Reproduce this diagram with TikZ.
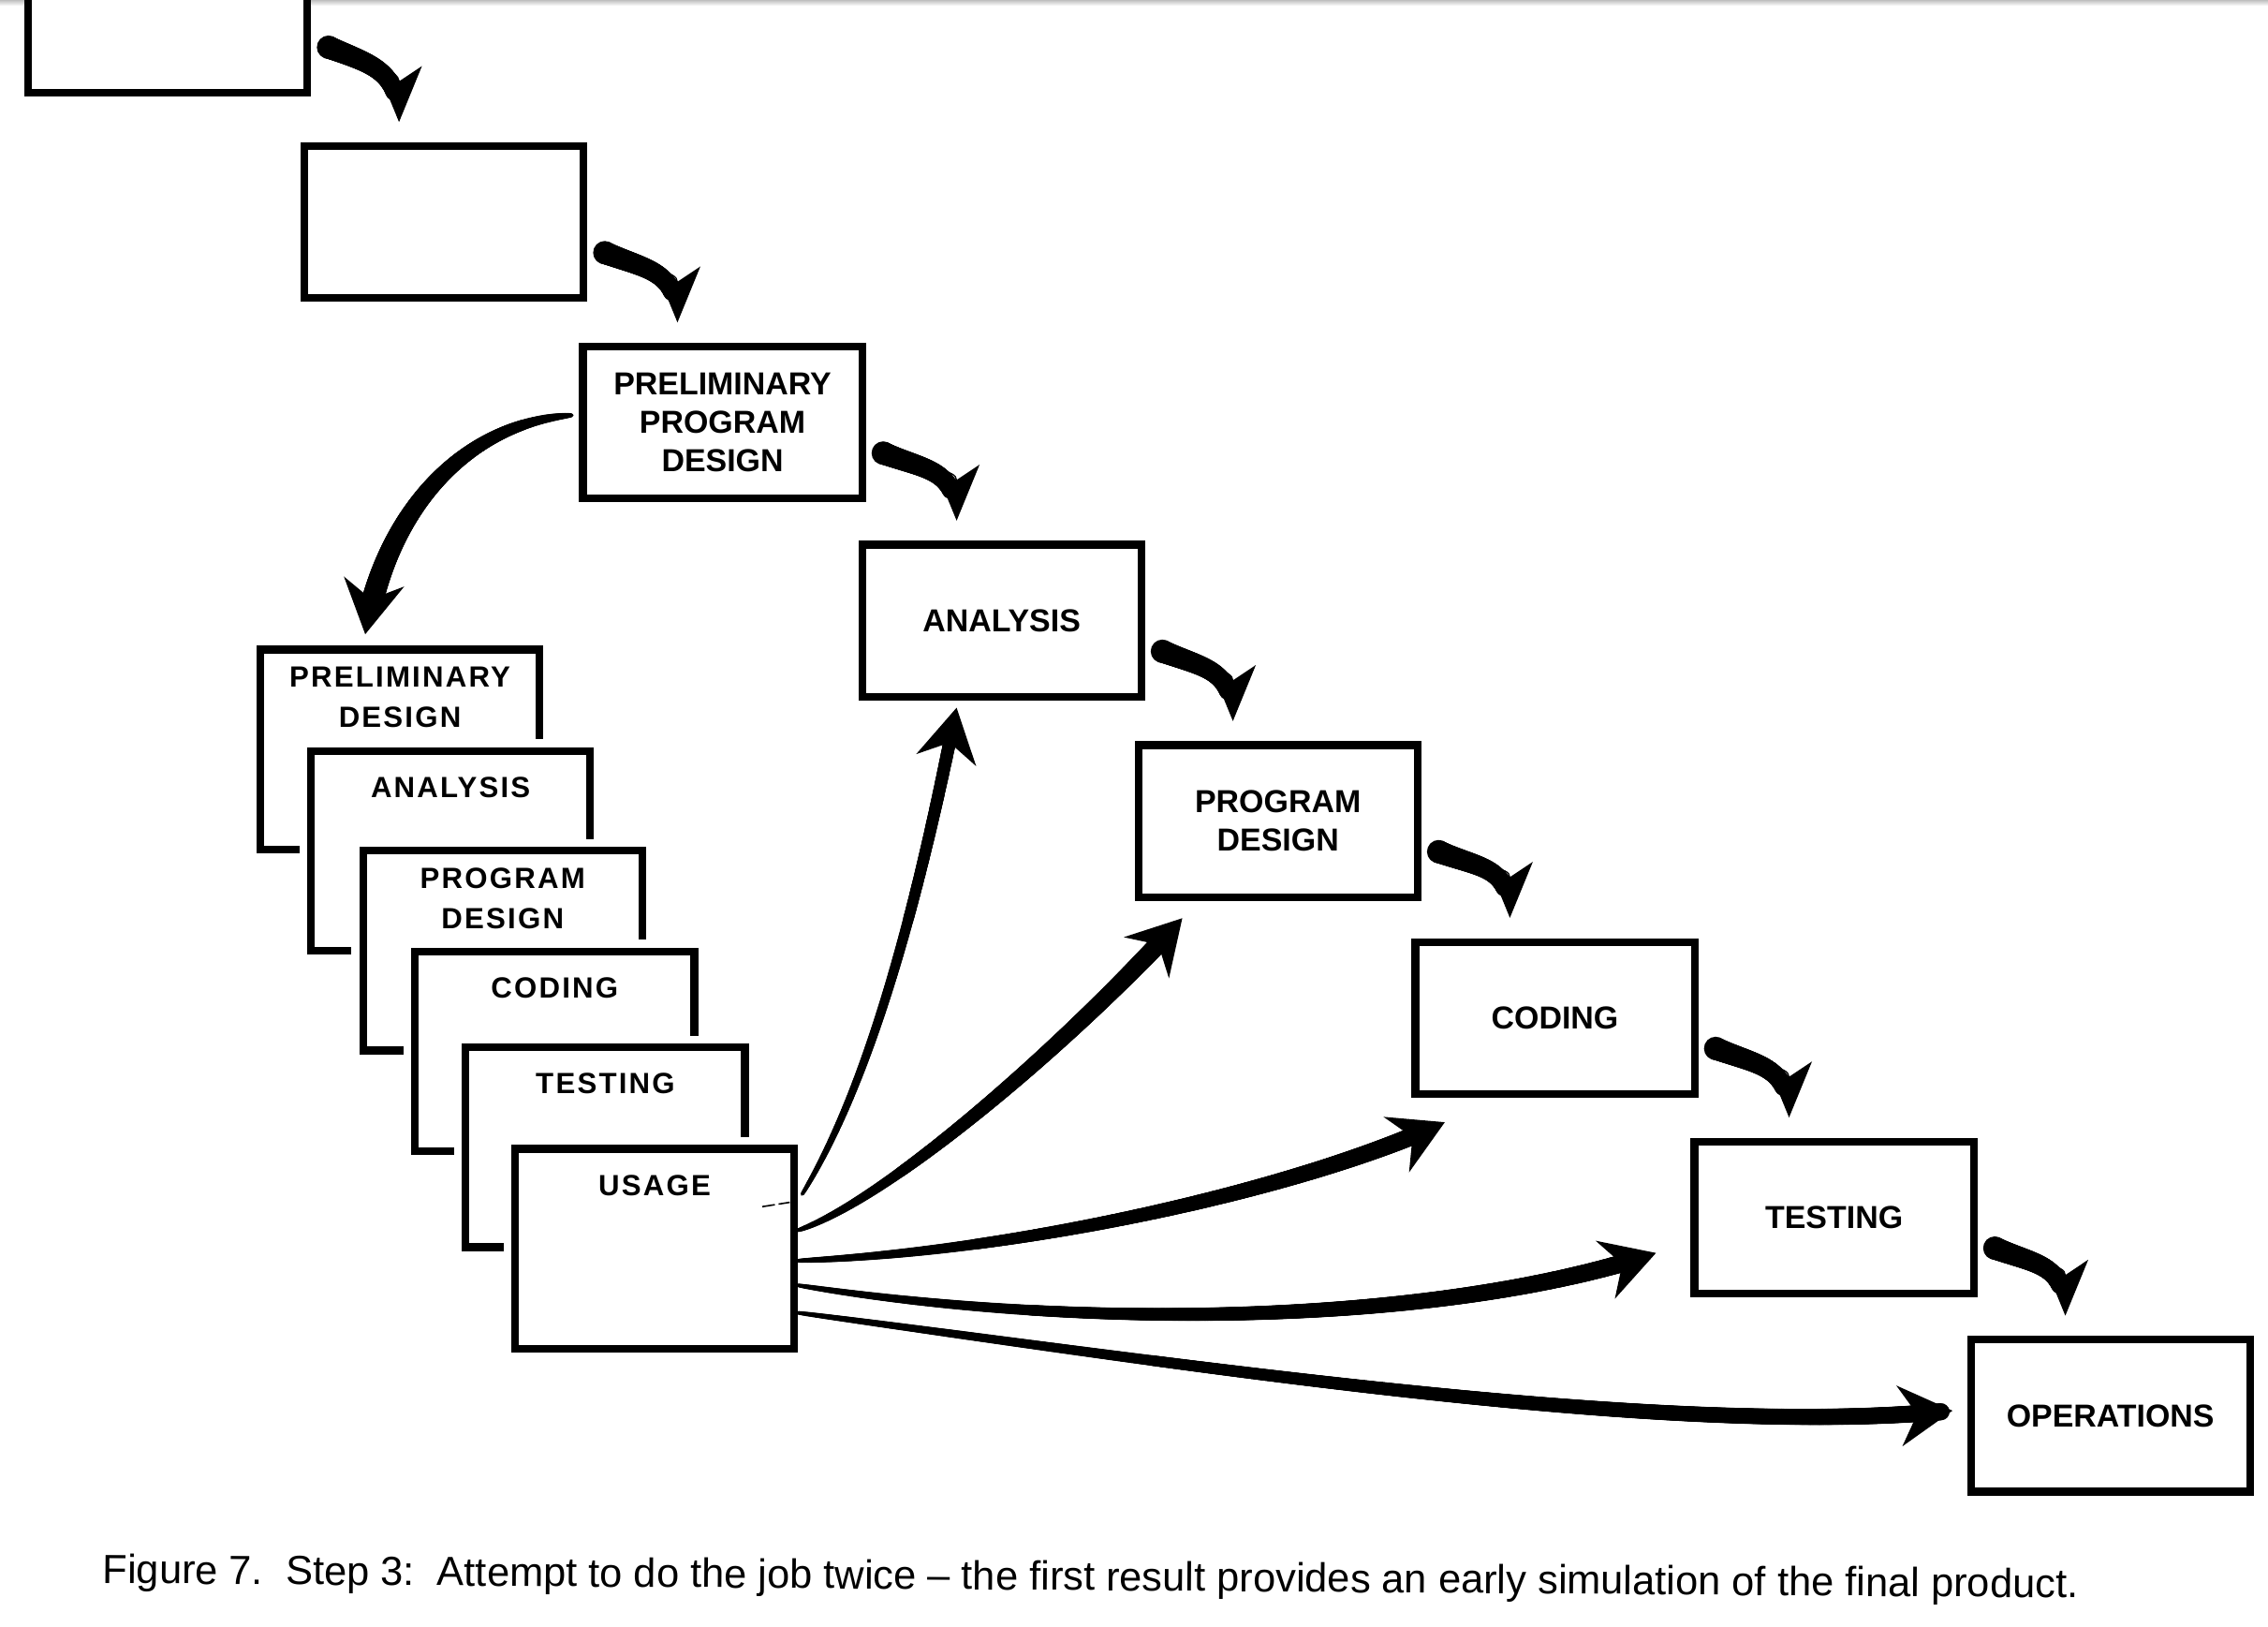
\documentclass[tikz,border=0pt]{standalone}
\usepackage{fontspec}
\setmainfont{Liberation Sans}
\newfontfamily\stackfont[LetterSpace=7]{Liberation Sans}
\newfontfamily\boxfont{Liberation Sans}
\usetikzlibrary{arrows.meta,decorations.markings,calc}
\newcommand\stk[2]{\parbox[c][27.6mm][t]{38.6mm}{\centering\vspace*{#1}#2\par}}
\tikzset{
 taper/.style n args={3}{postaction={decorate,decoration={markings,
   mark=between positions 0 and 1 step 0.4pt with {%
     \pgfmathsetmacro\tapd{\pgfkeysvalueof{/pgf/decoration/mark info/distance from start}}%
     \pgfmathsetmacro\tapl{\pgfdecoratedpathlength}%
     \pgfmathparse{(\tapd < \tapl - #3) ? 1 : 0}%
     \ifdim\pgfmathresult pt>0.5pt
       \pgfmathsetmacro\tapr{#1+(#2-#1)*(\tapd/\tapl)^0.55}%
       \fill (0,0) circle[radius=\tapr pt];%
     \fi}}}},
 chainarr/.style={line width=0.5pt, -{Stealth[length=22pt,width=18pt,inset=6pt]}, taper={4.6}{3.4}{12}},
 bigarr/.style={line width=0.5pt, -{Stealth[length=21pt,width=24pt,inset=7pt]}, taper={0.7}{#1}{14}},
}
\begin{document}
\begin{tikzpicture}[x=0.2mm,y=-0.2mm,
  rbox/.style={draw, line width=3pt, fill=white, minimum width=38.6mm, minimum height=21mm, inner sep=0pt, align=center, font=\boxfont\bfseries\fontsize{12.5}{15}\selectfont},
  sbox/.style={draw, line width=3pt, fill=white, inner sep=0pt, preaction={draw=white, line width=9pt}, font=\stackfont\bfseries\fontsize{11.5}{15.9}\selectfont},
]
\useasboundingbox (0,0) rectangle (1568,1124);
\clip (0,0) rectangle (1568,1124);
\shade[top color=black!25,bottom color=white] (0,0) rectangle (1568,4);

% main waterfall boxes
\node[rbox] (b1) at (116,11.5) {};
\node[rbox] (b2) at (307,153.5) {};
\node[rbox] (ppd) at (499.5,292) {PRELIMINARY\\PROGRAM\\DESIGN};
\node[rbox] (ana) at (692.5,429) {ANALYSIS};
\node[rbox] (pgd) at (883.5,567.5) {PROGRAM\\DESIGN};
\node[rbox] (cod) at (1075,703.5) {CODING};
\node[rbox] (tes) at (1268,841.5) {TESTING};
\node[rbox] (ops) at (1459,978.5) {OPERATIONS};

% stacked first-pass boxes
\node[sbox] (spd) at (276.5,518) {\stk{2.4mm}{PRELIMINARY\\DESIGN}};
\node[sbox] (san) at (311.5,588) {\stk{3.6mm}{ANALYSIS}};
\node[sbox] (spg) at (347.5,657) {\stk{2.4mm}{PROGRAM\\DESIGN}};
\node[sbox] (sco) at (383.5,726.5) {\stk{3.6mm}{CODING}};
\node[sbox] (ste) at (418.5,793) {\stk{3.6mm}{TESTING}};
\node[sbox] (sus) at (452.5,863) {\stk{3.6mm}{USAGE}};
\draw[line width=0.6pt, dash pattern=on 5pt off 1.5pt] (527,834) -- (546,831);

% chain arrows
\draw[chainarr] ($(b1.south east)+(12,-34)$) .. controls +(30,12) and +(0,-36) .. ($(b2.north west)+(68,-14)$);
\draw[chainarr] ($(b2.south east)+(12,-34)$) .. controls +(30,12) and +(0,-36) .. ($(ppd.north west)+(68,-14)$);
\draw[chainarr] ($(ppd.south east)+(12,-34)$) .. controls +(30,12) and +(0,-36) .. ($(ana.north west)+(68,-14)$);
\draw[chainarr] ($(ana.south east)+(12,-34)$) .. controls +(30,12) and +(0,-36) .. ($(pgd.north west)+(68,-14)$);
\draw[chainarr] ($(pgd.south east)+(12,-34)$) .. controls +(30,12) and +(0,-36) .. ($(cod.north west)+(68,-14)$);
\draw[chainarr] ($(cod.south east)+(12,-34)$) .. controls +(30,12) and +(0,-36) .. ($(tes.north west)+(68,-14)$);
\draw[chainarr] ($(tes.south east)+(12,-34)$) .. controls +(30,12) and +(0,-36) .. ($(ops.north west)+(68,-14)$);

% preliminary program design -> first pass
\draw[bigarr=4.6] ($(ppd.west)+(-5,-5)$) .. controls +(-70,5) and +(15,-90) .. ($(spd.north)+(-24,-8)$);

% usage -> second pass
\draw[bigarr=2.6] ($(sus.north east)+(3,34)$) .. controls +(52,-85) and +(-22,110) .. ($(ana.south west)+(68,5)$);
\draw[bigarr=3.8] ($(sus.north east)+(0,59)$) .. controls +(60,-20) and +(-80,88) .. ($(pgd.south west)+(33,12)$);
\draw[bigarr=3.6] ($(sus.north east)+(0,80)$) .. controls +(150,-6) and +(-102,47) .. ($(cod.south west)+(23,17)$);
\draw[bigarr=3.6] ($(sus.north east)+(0,97)$) .. controls +(200,32) and +(-148,49) .. ($(tes.west)+(-24,24.5)$);
\draw[bigarr=3.4] ($(sus.north east)+(0,116)$) .. controls +(250,33) and +(-202,20) .. ($(ops.west)+(-10,-3.5)$);

% caption
\node[font=\fontsize{16}{19}\selectfont, rotate=-0.42] (cap) at (754,1092) {Figure 7.\ \ Step 3:\ \ Attempt to do the job twice – the first result provides an early simulation of the final product.};
\end{tikzpicture}
\end{document}
